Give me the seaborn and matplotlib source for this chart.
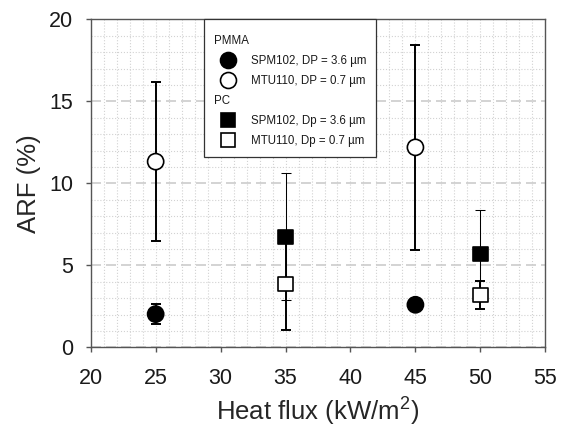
import numpy as np
import pandas as pd
import seaborn as sns
import matplotlib
matplotlib.use("Agg")
import matplotlib.pyplot as plt
from matplotlib.lines import Line2D
from matplotlib.ticker import MultipleLocator

# values
pmma_flux = [25, 45]
pmma_spm102 = [2.03, 2.6]
pmma_spm102_err = [0.63, 0.3]
pmma_mtu110 = [11.33, 12.2]
pmma_mtu110_err = [4.87, 6.25]

pc_flux = [35, 50]
pc_spm102 = [6.74, 5.7]
pc_spm102_err = [3.87, 2.65]
pc_mtu110 = [3.88, 3.2]
pc_mtu110_err = [2.83, 0.85]

x_ticks = [20, 25, 30, 35, 40, 45, 50, 55]
y_ticks = [0, 5, 10, 15, 20]
legend_labels = ['PMMA', 'SPM102, DP = 3.6 µm', 'MTU110, DP = 0.7 µm',
                 'PC', 'SPM102, Dp = 3.6 µm', 'MTU110, Dp = 0.7 µm']

rows = []
for f, v, e in zip(pmma_flux, pmma_spm102, pmma_spm102_err):
    rows.append((f, v, e, 'PMMA', 'SPM102'))
for f, v, e in zip(pmma_flux, pmma_mtu110, pmma_mtu110_err):
    rows.append((f, v, e, 'PMMA', 'MTU110'))
for f, v, e in zip(pc_flux, pc_spm102, pc_spm102_err):
    rows.append((f, v, e, 'PC', 'SPM102'))
for f, v, e in zip(pc_flux, pc_mtu110, pc_mtu110_err):
    rows.append((f, v, e, 'PC', 'MTU110'))
df = pd.DataFrame(rows, columns=['flux', 'arf', 'err', 'polymer', 'sampler'])

sns.set_theme(style='white')
plt.rcParams['font.family'] = ['Liberation Sans', 'DejaVu Sans']
plt.rcParams['mathtext.default'] = 'regular'
plt.rcParams['text.color'] = '#1a1a1a'

fig = plt.figure(figsize=(5.62, 4.3), dpi=100)
ax = fig.add_axes([0.1614, 0.1921, 0.8089, 0.7626])

# error bars: filled squares have thinner bars
for (pol, samp), g in df.groupby(['polymer', 'sampler']):
    lw = 0.75 if (pol == 'PC' and samp == 'SPM102') else 1.4
    ax.errorbar(g['flux'], g['arf'], yerr=g['err'], fmt='none', ecolor='black',
                elinewidth=lw, capsize=3.9, capthick=lw, zorder=2)

sns.scatterplot(data=df, x='flux', y='arf', style='polymer', hue='sampler',
                size='polymer', sizes={'PMMA': 135, 'PC': 108},
                markers={'PMMA': 'o', 'PC': 's'},
                palette={'SPM102': 'black', 'MTU110': 'white'},
                edgecolor='black', linewidth=1.2, legend=False, zorder=3, ax=ax)

ax.set_xlim(20, 55)
ax.set_ylim(0, 20)
ax.set_xticks(x_ticks)
ax.set_yticks(y_ticks)
ax.xaxis.set_minor_locator(MultipleLocator(1))
ax.yaxis.set_minor_locator(MultipleLocator(1))
ax.set_axisbelow(True)
ax.grid(which='minor', axis='both', color='#d2d2d2', linestyle=':', linewidth=0.8)
ax.grid(which='major', axis='x', color='#d2d2d2', linestyle=':', linewidth=0.8)
ax.grid(which='major', axis='y', color='#cccccc', linestyle=(0, (6, 3)), linewidth=1.2)

for s in ax.spines.values():
    s.set_color('#555555')
    s.set_linewidth(1.0)
ax.tick_params(which='major', direction='out', length=3.6, width=1.0, color='#555555',
               labelsize=15.5, labelcolor='#1a1a1a')
ax.tick_params(axis='x', which='major', pad=11, bottom=True)
ax.tick_params(axis='y', which='major', pad=9, left=True)
ax.tick_params(which='minor', length=0)

ax.set_xlabel('Heat flux (kW/m$^2$)', fontsize=18.5)
ax.set_ylabel('ARF (%)', fontsize=18.5)
ax.xaxis.set_label_coords(0.5, -0.148)
ax.yaxis.set_label_coords(-0.109, 0.5)

blank = Line2D([], [], linestyle='none')
handles = [
    blank,
    Line2D([], [], linestyle='none', marker='o', markersize=11.5, mfc='black', mec='black', mew=1.2),
    Line2D([], [], linestyle='none', marker='o', markersize=11.5, mfc='white', mec='black', mew=1.2),
    blank,
    Line2D([], [], linestyle='none', marker='s', markersize=10.3, mfc='black', mec='black', mew=1.2),
    Line2D([], [], linestyle='none', marker='s', markersize=10.3, mfc='white', mec='black', mew=1.2),
]
leg = ax.legend(handles, legend_labels, loc='upper left', bbox_to_anchor=(0.249, 1.0),
                borderaxespad=0, frameon=True, fancybox=False, framealpha=1,
                edgecolor='#333333', fontsize=8.3, borderpad=0.85, handlelength=2.47,
                handletextpad=0.77, labelspacing=0.7, title=' ', title_fontsize=1)
leg.get_frame().set_linewidth(0.9)
leg._legend_box.sep = 3.5
# group headers start at the left, without a marker slot
for col in leg._legend_handle_box.get_children():
    for row in col.get_children():
        da, ta = row.get_children()
        if ta.get_text() in ('PMMA', 'PC'):
            da.width = 0
            row.sep = 0

fig.savefig('out.png', dpi=100)
